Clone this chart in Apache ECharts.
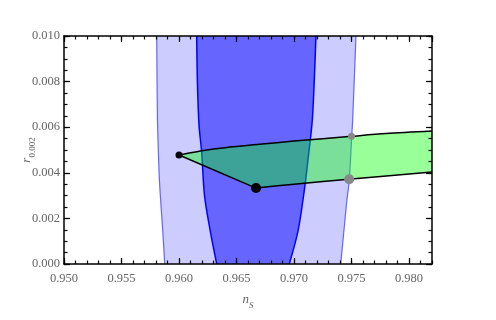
<!DOCTYPE html>
<html>
<head>
<meta charset="utf-8">
<script src="https://cdn.jsdelivr.net/npm/echarts@6/dist/echarts.min.js"></script>
<style>
  html, body { margin: 0; padding: 0; background: #fff; }
</style>
</head>
<body>
<div id="chart" style="width:496px;height:320px"></div>
<script>
  // 95% band (light) edges, [n_s, r]
  var outerLeft = [[0.95806, 0.010], [0.95813, 0.0063], [0.95826, 0.0041], [0.95835, 0.0032], [0.95858, 0.0015], [0.95876, 0]];
  var outerRight = [[0.97539, 0.010], [0.97510, 0.0063], [0.97502, 0.0056], [0.97481, 0.0037], [0.97458, 0.0027], [0.97435, 0.0015], [0.97406, 0]];
  // 68% band (dark) edges
  var innerLeft = [[0.96154, 0.010], [0.96160, 0.008], [0.96174, 0.0061], [0.96197, 0.0049], [0.96222, 0.0030], [0.96270, 0.0015], [0.96328, 0]];
  var innerRight = [[0.97191, 0.010], [0.97176, 0.008], [0.97159, 0.0063], [0.97127, 0.0048], [0.97090, 0.00325], [0.97037, 0.0015], [0.96959, 0]];
  // green model region
  var greenUpper = [[0.960, 0.00478], [0.961, 0.00488], [0.962, 0.00497], [0.964, 0.00510], [0.967, 0.00525], [0.970, 0.00539], [0.975, 0.00560], [0.978, 0.00572], [0.982, 0.00583]];
  var greenLower = [[0.9667, 0.00333], [0.970, 0.00350], [0.975, 0.00373], [0.982, 0.00403]];
  // marked points
  var blackSmall = [[0.960, 0.00478]];
  var blackBig = [[0.9667, 0.00333]];
  var graySmall = [[0.9750, 0.00560]];
  var grayBig = [[0.9748, 0.00372]];

  var serif = "'Liberation Serif', 'DejaVu Serif', serif";
  var labelColor = '#666';
  var tickColor = '#000';

  function shape(points, kind, style, smooth) {
    return {
      type: 'custom',
      coordinateSystem: 'cartesian2d',
      silent: true,
      clip: true,
      z: 2,
      data: points,
      renderItem: function (params, api) {
        if (params.dataIndex !== 0) return null;
        var pts = points.map(function (p) { return api.coord(p); });
        return { type: kind, shape: { points: pts, smooth: smooth || 0 }, style: style };
      }
    };
  }

  function band(left, right) {
    return left.concat(right.slice().reverse());
  }

  var greenPoly = greenUpper.concat(greenLower.slice().reverse());
  var greenJoin = [greenUpper[0], greenLower[0]];

  function dots(data, size, color) {
    return { type: 'scatter', data: data, symbolSize: size, itemStyle: { color: color, opacity: 1 }, z: 5, silent: true };
  }

  function fmt(v) { return v.toFixed(3); }

  function xAxisDef(pos, interval, len, main) {
    return {
      type: 'value', position: pos, min: 0.95, max: 0.982, interval: interval,
      z: 10,
      axisLine: { show: main, onZero: false, lineStyle: { color: '#000', width: 1.5 } },
      axisTick: { show: true, inside: true, length: len, lineStyle: { color: tickColor, width: 1.2 } },
      axisLabel: {
        show: main && pos === 'bottom', showMaxLabel: false, margin: 8,
        color: labelColor, fontFamily: serif, fontSize: 12.5, formatter: fmt
      },
      splitLine: { show: false }
    };
  }

  function yAxisDef(pos, interval, len, main) {
    return {
      type: 'value', position: pos, min: 0, max: 0.010, interval: interval,
      z: 10,
      axisLine: { show: main, onZero: false, lineStyle: { color: '#000', width: 1.5 } },
      axisTick: { show: true, inside: true, length: len, lineStyle: { color: tickColor, width: 1.2 } },
      axisLabel: {
        show: main && pos === 'left', margin: 4,
        color: labelColor, fontFamily: serif, fontSize: 12.5, formatter: fmt
      },
      splitLine: { show: false }
    };
  }

  var xBottom = xAxisDef('bottom', 0.005, 6, true);
  xBottom.name = '{i|n}{s|S}';
  xBottom.nameLocation = 'middle';
  xBottom.nameGap = 29;
  xBottom.nameMoveOverlap = false;
  xBottom.nameTextStyle = {
    color: labelColor,
    rich: {
      i: { fontFamily: serif, fontStyle: 'italic', fontSize: 13, color: labelColor, verticalAlign: 'top', lineHeight: 13 },
      s: { fontFamily: serif, fontStyle: 'italic', fontSize: 9, color: labelColor, verticalAlign: 'bottom', lineHeight: 17 }
    }
  };

  var yLeft = yAxisDef('left', 0.002, 6, true);
  yLeft.name = '{i|r}{s|0.002}';
  yLeft.nameLocation = 'middle';
  yLeft.nameGap = 27;
  yLeft.nameRotate = 90;
  yLeft.nameMoveOverlap = false;
  yLeft.nameTextStyle = {
    color: labelColor,
    rich: {
      i: { fontFamily: serif, fontStyle: 'italic', fontSize: 13, color: labelColor, verticalAlign: 'top', lineHeight: 13 },
      s: { fontFamily: serif, fontSize: 9, color: labelColor, verticalAlign: 'bottom', lineHeight: 17 }
    }
  };

  var edgeLight = { fill: null, stroke: 'rgba(70,70,255,0.8)', lineWidth: 1.2 };
  var edgeDark = { fill: null, stroke: '#0000ff', lineWidth: 1.5 };
  var edgeGreen = { fill: null, stroke: '#000', lineWidth: 1.5 };

  var chart = echarts.init(document.getElementById('chart'));
  chart.setOption({
    animation: false,
    backgroundColor: '#fff',
    grid: { left: 64, right: 64, top: 36, bottom: 56 },
    xAxis: [
      xBottom,
      xAxisDef('bottom', 0.001, 3.5, false),
      xAxisDef('top', 0.005, 6, true),
      xAxisDef('top', 0.001, 3.5, false)
    ],
    yAxis: [
      yLeft,
      yAxisDef('left', 0.0005, 3.5, false),
      yAxisDef('right', 0.002, 6, true),
      yAxisDef('right', 0.0005, 3.5, false)
    ],
    series: [
      shape(band(outerLeft, outerRight), 'polygon', { fill: '#ccccff', stroke: null }),
      shape(band(innerLeft, innerRight), 'polygon', { fill: '#6666ff', stroke: null }),
      shape(outerLeft, 'polyline', edgeLight, 0.3),
      shape(outerRight, 'polyline', edgeLight, 0.3),
      shape(innerLeft, 'polyline', edgeDark, 0.3),
      shape(innerRight, 'polyline', edgeDark, 0.3),
      shape(greenPoly, 'polygon', { fill: 'rgba(0,255,0,0.4)', stroke: null }),
      shape(greenUpper, 'polyline', edgeGreen, 0.3),
      shape(greenLower, 'polyline', edgeGreen, 0.3),
      shape(greenJoin, 'polyline', edgeGreen),
      dots(blackSmall, 7, '#000'),
      dots(blackBig, 10, '#000'),
      dots(graySmall, 7, '#888'),
      dots(grayBig, 10, '#888')
    ]
  });
</script>
</body>
</html>
